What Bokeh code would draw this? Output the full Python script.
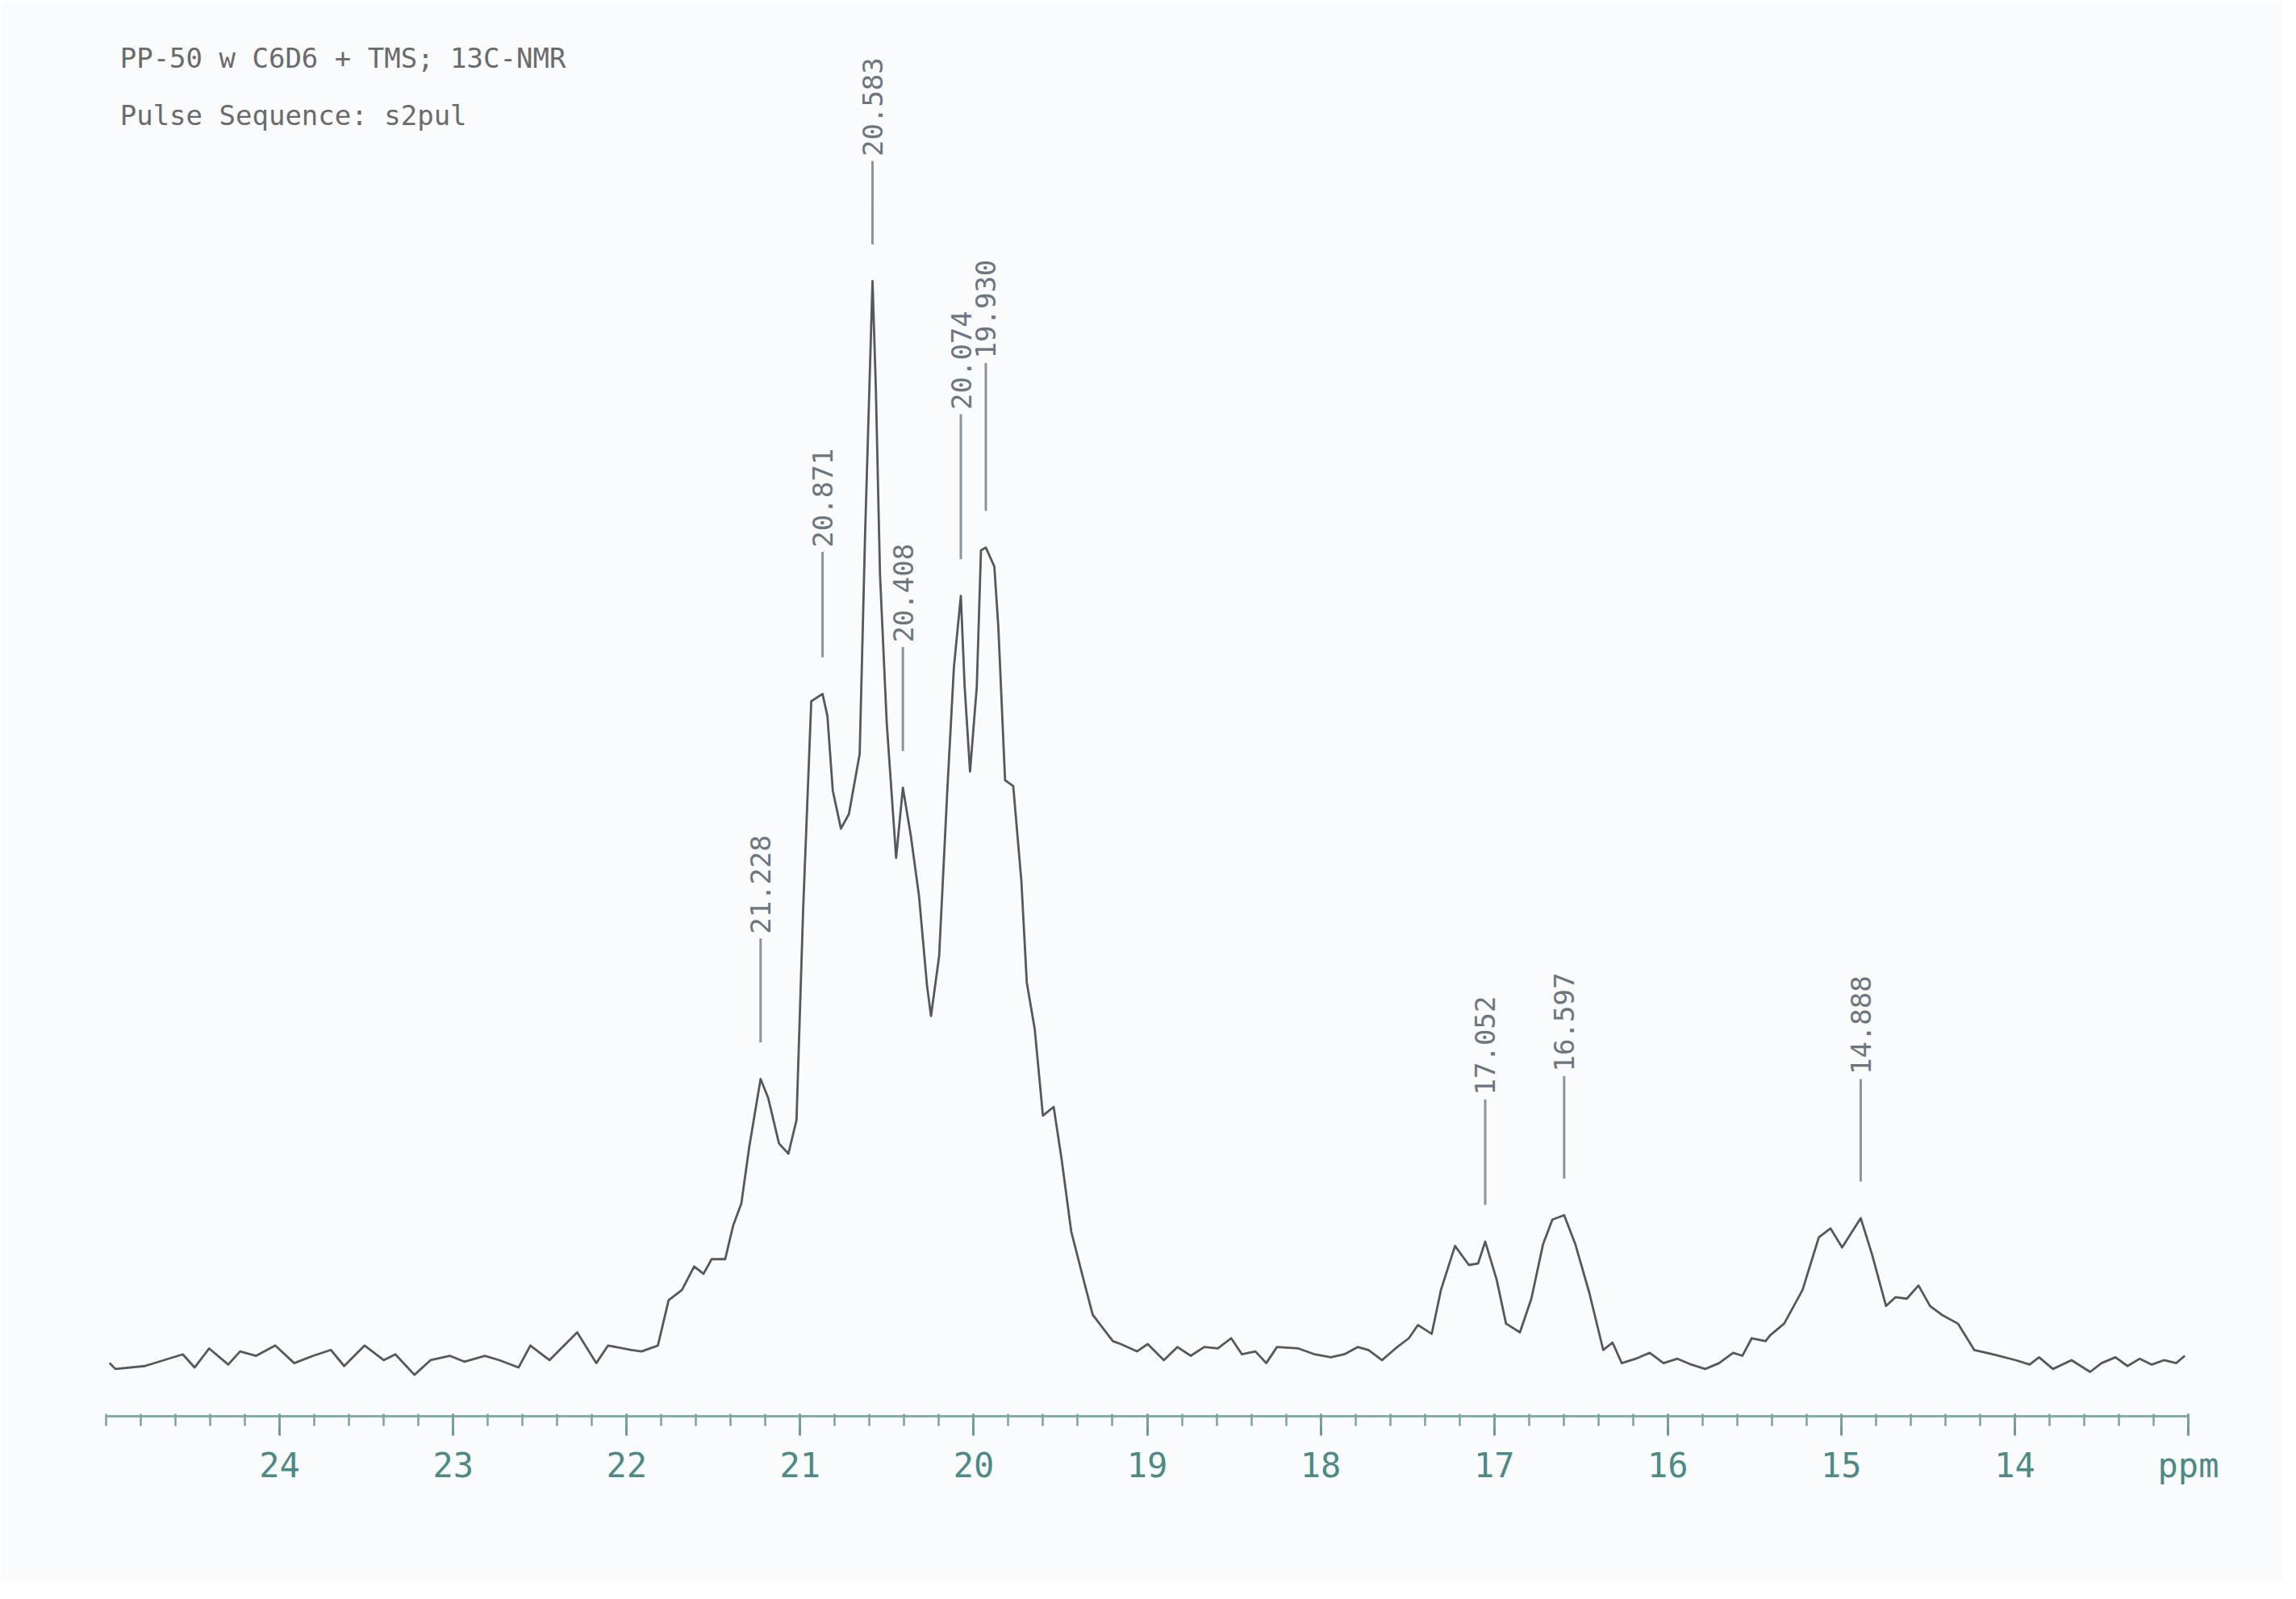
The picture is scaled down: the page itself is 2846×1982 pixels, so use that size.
import numpy as np
from bokeh.plotting import figure
from bokeh.models import Range1d, FixedTicker, Label, ColumnDataSource
from bokeh.core.properties import value
from bokeh.embed import file_html
from bokeh.resources import INLINE

# ---- data (ppm, arbitrary intensity) ----
ppm = [24.980, 24.946, 24.777, 24.558, 24.490, 24.406, 24.296, 24.228, 24.135, 24.025,
       23.916, 23.806, 23.704, 23.628, 23.510, 23.400, 23.333, 23.223, 23.130, 23.020,
       22.935, 22.817, 22.733, 22.623, 22.555, 22.445, 22.285, 22.175, 22.107, 21.972,
       21.914, 21.820, 21.758, 21.681, 21.611, 21.557, 21.510, 21.432, 21.386, 21.339,
       21.293, 21.228, 21.184, 21.122, 21.068, 21.021, 20.983, 20.936, 20.871, 20.843,
       20.812, 20.765, 20.719, 20.657, 20.626, 20.583, 20.564, 20.540, 20.501, 20.447,
       20.408, 20.362, 20.315, 20.269, 20.246, 20.199, 20.152, 20.114, 20.074, 20.052,
       20.021, 19.982, 19.958, 19.930, 19.881, 19.858, 19.819, 19.772, 19.725, 19.694,
       19.648, 19.601, 19.539, 19.493, 19.438, 19.369, 19.314, 19.198, 19.152, 19.059,
       18.997, 18.904, 18.826, 18.749, 18.671, 18.593, 18.516, 18.454, 18.376, 18.314,
       18.252, 18.128, 18.035, 17.942, 17.864, 17.787, 17.725, 17.647, 17.569, 17.492,
       17.440, 17.360, 17.307, 17.226, 17.146, 17.093, 17.052, 16.986, 16.932, 16.852,
       16.786, 16.719, 16.665, 16.597, 16.532, 16.452, 16.372, 16.318, 16.265, 16.184,
       16.104, 16.024, 15.944, 15.864, 15.784, 15.704, 15.623, 15.570, 15.516, 15.436,
       15.410, 15.329, 15.223, 15.129, 15.062, 14.995, 14.888, 14.822, 14.742, 14.688,
       14.622, 14.555, 14.488, 14.421, 14.328, 14.234, 14.127, 13.994, 13.914, 13.860,
       13.780, 13.673, 13.566, 13.500, 13.420, 13.350, 13.280, 13.210, 13.140, 13.070,
       13.020]
intensity = [2, -2, 0, 8, -1, 12, 1, 10, 7, 14,
             2, 7, 11, 0, 14, 4, 8, -6, 4, 7,
             3, 7, 4, -1, 14, 4, 23, 2, 14, 11,
             10, 14, 45, 52, 68, 63, 73, 73, 96, 111,
             150, 196, 183, 152, 145, 168, 311, 454, 459, 444,
             393, 367, 377, 418, 567, 741, 669, 541, 439, 347,
             395, 362, 321, 260, 239, 280, 393, 477, 526, 464,
             406, 464, 557, 559, 546, 505, 400, 396, 331, 262,
             230, 171, 177, 141, 92, 60, 35, 17, 15, 10,
             15, 4, 13, 7, 13, 12, 19, 8, 10, 2,
             13, 12, 8, 6, 8, 13, 11, 4, 12, 19,
             28, 22, 52, 82, 69, 70, 85, 59, 29, 23,
             46, 83, 100, 103, 83, 50, 11, 16, 2, 5,
             9, 2, 5, 1, -2, 2, 9, 7, 19, 17,
             21, 29, 52, 88, 94, 81, 101, 76, 41, 47,
             46, 55, 41, 35, 29, 11, 8, 4, 1, 6,
             -2, 4, -4, 2, 6, 0, 5, 1, 4, 2,
             7]

peak_ppm = [21.228, 20.871, 20.583, 20.408, 20.074, 19.930, 17.052, 16.597, 14.888]
peak_labels = ["21.228", "20.871", "20.583", "20.408", "20.074", "19.930",
               "17.052", "16.597", "14.888"]

major_ticks = [24, 23, 22, 21, 20, 19, 18, 17, 16, 15, 14, 13]
axis_unit = "ppm"
header_lines = ["PP-50 w C6D6 + TMS; 13C-NMR", "Pulse Sequence: s2pul"]

# ---- layout (not data) ----
leader_len = [71, 72, 57, 71, 99, 101, 72, 70, 70]
GAP = 25

x_order = np.argsort(ppm)
peak_h = np.interp(peak_ppm, np.array(ppm)[x_order], np.array(intensity)[x_order])
line_bot = peak_h + GAP
line_top = line_bot + np.array(leader_len)

BG = "#fafbfc"
p = figure(frame_width=2581, frame_height=1743,
           x_range=Range1d(25, 13), y_range=Range1d(-34.3, 926),
           output_backend="svg", toolbar_location=None,
           min_border_left=131, min_border_right=118,
           min_border_top=12, min_border_bottom=205,
           y_axis_location=None)
p.background_fill_color = BG
p.border_fill_color = BG
p.outline_line_color = None
p.xgrid.visible = False
p.ygrid.visible = False

p.line(ppm, intensity, line_color="#55585f", line_width=2.8, line_join="round")

src = ColumnDataSource(dict(x=peak_ppm, y0=line_bot, y1=line_top,
                            ty=line_top + 3, label=peak_labels))
p.segment(x0="x", y0="y0", x1="x", y1="y1", source=src,
          line_color="#8b949b", line_width=3)
p.text(x="x", y="ty", text="label", source=src, angle=np.pi / 2,
       text_align="left", text_baseline="middle",
       text_font=value("DejaVu Sans Mono"), text_font_size="34px",
       text_color="#6d767e")

for i, t in enumerate(header_lines):
    p.add_layout(Label(x=24.92, y=893 - 39 * i, text=t,
                       text_font="DejaVu Sans Mono", text_font_size="34px",
                       text_color="#6b6b6b", text_align="left",
                       text_baseline="middle"))

minor = [round(13 + 0.2 * k, 1) for k in range(0, 61)]
ax = p.xaxis[0]
ax.ticker = FixedTicker(ticks=major_ticks, minor_ticks=minor)
ax.major_label_overrides = {13: axis_unit, "13": axis_unit}
ax.axis_line_color = "#86aca8"
ax.axis_line_width = 3
ax.major_tick_line_color = "#6f9994"
ax.major_tick_line_width = 3
ax.major_tick_out = 24
ax.major_tick_in = 3
ax.minor_tick_line_color = "#7ba39f"
ax.minor_tick_line_width = 2.5
ax.minor_tick_out = 12
ax.minor_tick_in = 3
ax.major_label_text_font = "DejaVu Sans Mono"
ax.major_label_text_font_size = "42px"
ax.major_label_text_color = "#4e8a85"
ax.major_label_standoff = 12

open("out.html", "w").write(file_html(p, INLINE))
